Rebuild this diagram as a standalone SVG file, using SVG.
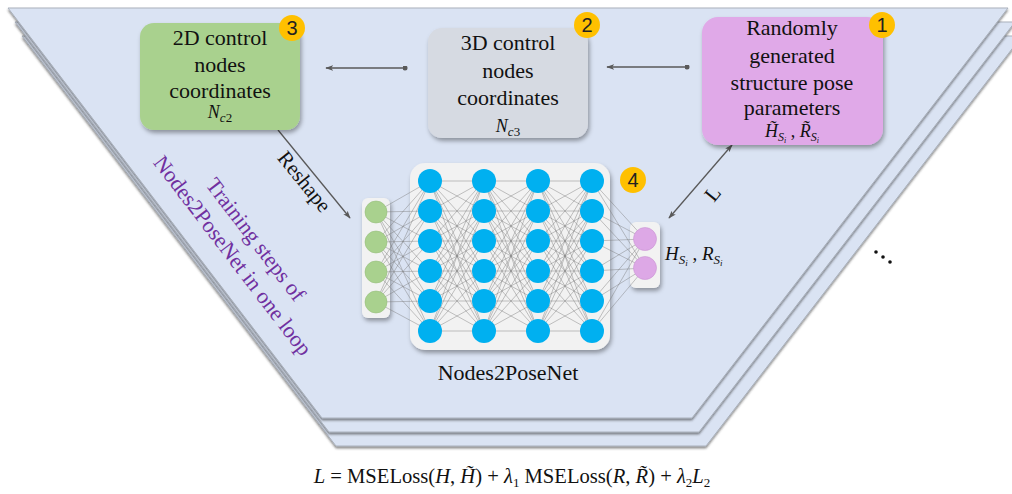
<svg xmlns="http://www.w3.org/2000/svg" xmlns:xlink="http://www.w3.org/1999/xlink" width="1012" height="494" viewBox="0 0 1012 494">
<style>
.layer{fill:#dae3f3;stroke:#aab1bc;stroke-width:1;filter:url(#lsh)}
.t{font-family:"Liberation Serif","Times New Roman",serif;fill:#111}
.box{font-size:22px;text-anchor:middle}
.it{font-style:italic}
.badge circle{fill:#ffc000}
.badge text{font-family:"Liberation Sans",Arial,sans-serif;font-size:20px;text-anchor:middle;fill:#222}
.conn{stroke:#595959;stroke-width:1.3;fill:none}
.nn{stroke:#777;stroke-width:0.5;fill:none;opacity:0.85}
.blue{fill:#00b0f0}
.green{fill:#a9d18e;stroke:#95bd7b;stroke-width:0.6}
.pink{fill:#dda8e6;stroke:#c996d3;stroke-width:0.6}
.panel{fill:#f2f2f2;filter:url(#sh)}
</style>
<defs>
<filter id="sh" x="-20%" y="-20%" width="140%" height="150%"><feDropShadow dx="1.5" dy="3" stdDeviation="2" flood-color="#000" flood-opacity="0.35"/></filter>
<filter id="lsh" x="-5%" y="-5%" width="110%" height="115%"><feDropShadow dx="0" dy="2" stdDeviation="1.2" flood-color="#333" flood-opacity="0.55"/></filter>
<marker id="ah" viewBox="0 0 10 10" refX="9" refY="5" markerWidth="8" markerHeight="8" orient="auto-start-reverse" markerUnits="userSpaceOnUse"><path d="M0,1.5 L10,5 L0,8.5 L2.5,5 Z" fill="#595959"/></marker>
<marker id="dot" viewBox="0 0 10 10" refX="5" refY="5" markerWidth="5" markerHeight="5" markerUnits="userSpaceOnUse"><circle cx="5" cy="5" r="5" fill="#595959"/></marker>
<path id="hh" d="M0 181L54 181M0 181L54 211M0 181L54 241M0 181L54 271M0 181L54 301M0 181L54 331M0 211L54 181M0 211L54 211M0 211L54 241M0 211L54 271M0 211L54 301M0 211L54 331M0 241L54 181M0 241L54 211M0 241L54 241M0 241L54 271M0 241L54 301M0 241L54 331M0 271L54 181M0 271L54 211M0 271L54 241M0 271L54 271M0 271L54 301M0 271L54 331M0 301L54 181M0 301L54 211M0 301L54 241M0 301L54 271M0 301L54 301M0 301L54 331M0 331L54 181M0 331L54 211M0 331L54 241M0 331L54 271M0 331L54 301M0 331L54 331"/>
</defs>
<rect width="1012" height="494" fill="#fff"/>
<g id="stack">
<polygon class="layer" points="22,36 1022,36 706,446 336,446"/>
<polygon class="layer" points="15,22 1015,22 699,432 329,432"/>
<polygon class="layer" points="8,8 1008,8 692,418 322,418"/>
</g>
<g id="loop-label">
<text class="t" font-size="22" style="fill:#7030a0" text-anchor="middle" transform="translate(250,244) rotate(52.6)">Training steps of</text>
<text class="t" font-size="22" style="fill:#7030a0" text-anchor="middle" transform="translate(227,260) rotate(52.6)">Nodes2PoseNet in one loop</text>
</g>
<g id="connectors">
<line class="conn" x1="405" y1="68" x2="326" y2="68" marker-start="url(#dot)" marker-end="url(#ah)"/>
<line class="conn" x1="687" y1="67" x2="607" y2="67" marker-start="url(#dot)" marker-end="url(#ah)"/>
<line class="conn" x1="278" y1="130" x2="350" y2="218" marker-end="url(#ah)"/>
<line class="conn" x1="669" y1="218" x2="732" y2="145" marker-start="url(#ah)" marker-end="url(#ah)"/>
<text class="t" font-size="21" text-anchor="middle" transform="translate(299,186) rotate(51)">Reshape</text>
<text class="t" font-size="21" text-anchor="middle" transform="translate(718,198) rotate(-51)">L</text>
</g>
<g id="node3">
<rect x="140" y="23" width="160" height="107" rx="14" fill="#a9d18e" filter="url(#sh)"/>
<text class="t box" x="220" y="45">2D control</text>
<text class="t box" x="220" y="72">nodes</text>
<text class="t box" x="220" y="98">coordinates</text>
<text class="t" x="220" y="118" font-size="18" text-anchor="middle"><tspan class="it">N</tspan><tspan dy="4" font-size="13"><tspan class="it">c</tspan>2</tspan></text>
<g class="badge"><circle cx="292" cy="28" r="13"/><text x="292" y="35">3</text></g>
</g>
<g id="node2">
<rect x="428" y="28" width="160" height="110" rx="14" fill="#d6dae2" filter="url(#sh)"/>
<text class="t box" x="508" y="50">3D control</text>
<text class="t box" x="508" y="78">nodes</text>
<text class="t box" x="508" y="105">coordinates</text>
<text class="t" x="508" y="132" font-size="18" text-anchor="middle"><tspan class="it">N</tspan><tspan dy="4" font-size="13"><tspan class="it">c</tspan>3</tspan></text>
<g class="badge"><circle cx="587" cy="25" r="13"/><text x="587" y="32">2</text></g>
</g>
<g id="node1">
<rect x="702" y="17" width="181" height="128" rx="16" fill="#e0a9e8" filter="url(#sh)"/>
<text class="t box" x="792" y="35">Randomly</text>
<text class="t box" x="792" y="63">generated</text>
<text class="t box" x="792" y="90">structure pose</text>
<text class="t box" x="792" y="115">parameters</text>
<text class="t" x="792" y="137" font-size="18" text-anchor="middle"><tspan class="it">H̃</tspan><tspan dy="4" font-size="12" class="it">S</tspan><tspan dy="2" font-size="8" class="it">i</tspan><tspan dy="-6"> , </tspan><tspan class="it">R̃</tspan><tspan dy="4" font-size="12" class="it">S</tspan><tspan dy="2" font-size="8" class="it">i</tspan></text>
<g class="badge"><circle cx="882" cy="25" r="13"/><text x="882" y="32">1</text></g>
</g>
<g id="node4">
<rect class="panel" x="410" y="163" width="200" height="187" rx="15"/>
<rect class="panel" x="362" y="198" width="28" height="120" rx="6"/>
<rect class="panel" x="630" y="222" width="30" height="66" rx="6"/>
<path class="nn" d="M376 212L430 181M376 212L430 211M376 212L430 241M376 212L430 271M376 212L430 301M376 212L430 331M376 242L430 181M376 242L430 211M376 242L430 241M376 242L430 271M376 242L430 301M376 242L430 331M376 272L430 181M376 272L430 211M376 272L430 241M376 272L430 271M376 272L430 301M376 272L430 331M376 302L430 181M376 302L430 211M376 302L430 241M376 302L430 271M376 302L430 301M376 302L430 331"/>
<use xlink:href="#hh" href="#hh" class="nn" x="430"/>
<use xlink:href="#hh" href="#hh" class="nn" x="484"/>
<use xlink:href="#hh" href="#hh" class="nn" x="538"/>
<path class="nn" d="M592 181L645 239M592 211L645 239M592 241L645 239M592 271L645 239M592 301L645 239M592 331L645 239M592 181L645 268M592 211L645 268M592 241L645 268M592 271L645 268M592 301L645 268M592 331L645 268"/>
<g class="green">
<circle cx="376" cy="212" r="11"/><circle cx="376" cy="242" r="11"/><circle cx="376" cy="272" r="11"/><circle cx="376" cy="302" r="11"/>
</g>
<g class="blue">
<circle cx="430" cy="181" r="12"/><circle cx="430" cy="211" r="12"/><circle cx="430" cy="241" r="12"/><circle cx="430" cy="271" r="12"/><circle cx="430" cy="301" r="12"/><circle cx="430" cy="331" r="12"/>
<circle cx="484" cy="181" r="12"/><circle cx="484" cy="211" r="12"/><circle cx="484" cy="241" r="12"/><circle cx="484" cy="271" r="12"/><circle cx="484" cy="301" r="12"/><circle cx="484" cy="331" r="12"/>
<circle cx="538" cy="181" r="12"/><circle cx="538" cy="211" r="12"/><circle cx="538" cy="241" r="12"/><circle cx="538" cy="271" r="12"/><circle cx="538" cy="301" r="12"/><circle cx="538" cy="331" r="12"/>
<circle cx="592" cy="181" r="12"/><circle cx="592" cy="211" r="12"/><circle cx="592" cy="241" r="12"/><circle cx="592" cy="271" r="12"/><circle cx="592" cy="301" r="12"/><circle cx="592" cy="331" r="12"/>
</g>
<g class="pink"><circle cx="645" cy="239" r="11.5"/><circle cx="645" cy="268" r="11.5"/></g>
<text class="t" x="665" y="260" font-size="19"><tspan class="it">H</tspan><tspan dy="4" font-size="13" class="it">S</tspan><tspan dy="2" font-size="9" class="it">i</tspan><tspan dy="-6"> , </tspan><tspan class="it">R</tspan><tspan dy="4" font-size="13" class="it">S</tspan><tspan dy="2" font-size="9" class="it">i</tspan></text>
<text class="t" x="508" y="380" font-size="22" text-anchor="middle">Nodes2PoseNet</text>
<g class="badge"><circle cx="633" cy="180" r="13"/><text x="633" y="187">4</text></g>
</g>
<g id="ellipsis" fill="#111">
<circle cx="876" cy="252" r="1.8"/><circle cx="883" cy="257" r="1.8"/><circle cx="890" cy="262" r="1.8"/>
</g>
<g id="formula">
<text class="t" x="512" y="483" font-size="20.6" text-anchor="middle"><tspan class="it">L</tspan> = MSELoss(<tspan class="it">H</tspan>, <tspan class="it">H̃</tspan>) + <tspan class="it">λ</tspan><tspan dy="4" font-size="13">1</tspan><tspan dy="-4"> MSELoss(</tspan><tspan class="it">R</tspan>, <tspan class="it">R̃</tspan>) + <tspan class="it">λ</tspan><tspan dy="4" font-size="13">2</tspan><tspan dy="-4" class="it">L</tspan><tspan dy="4" font-size="13">2</tspan></text>
</g>
</svg>
